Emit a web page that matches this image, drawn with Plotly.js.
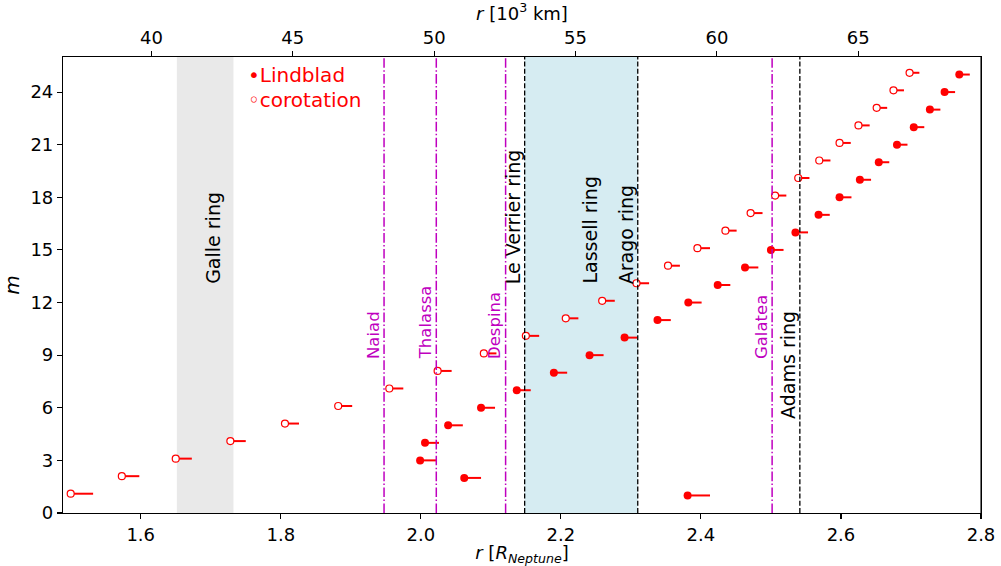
<!DOCTYPE html>
<html>
<head>
<meta charset="utf-8">
<script src="https://cdn.plot.ly/plotly-3.0.1.min.js"></script>
<style>html,body{margin:0;padding:0;background:#fff;}#chart{width:1001px;height:566px;}</style>
</head>
<body>
<div id="chart"></div>
<script>
// Lindblad resonances: m, radius (R_Neptune), end of drift segment
const lindM   = [1,2,3,4,5,6,7,8,9,10,11,12,13,14,15,16,17,18,19,20,21,22,23,24,25];
const lindR   = [2.381,2.062,1.999,2.006,2.039,2.086,2.137,2.190,2.241,2.291,2.338,2.382,2.424,2.463,2.500,2.535,2.568,2.598,2.627,2.654,2.680,2.704,2.727,2.748,2.769];
const lindEnd = [2.413,2.086,2.022,2.026,2.060,2.106,2.157,2.209,2.261,2.309,2.357,2.401,2.442,2.482,2.518,2.553,2.584,2.615,2.643,2.669,2.695,2.719,2.742,2.763,2.784];
// Corotation resonances
const corM    = [1.1,2.1,3.1,4.1,5.1,6.1,7.1,8.1,9.1,10.1,11.1,12.1,13.1,14.1,15.1,16.1,17.1,18.1,19.1,20.1,21.1,22.1,23.1,24.1,25.1];
const corR    = [1.500,1.573,1.650,1.728,1.806,1.882,1.955,2.024,2.090,2.150,2.207,2.259,2.308,2.353,2.395,2.435,2.471,2.506,2.539,2.569,2.598,2.625,2.651,2.675,2.698];
const corEnd  = [1.532,1.598,1.673,1.750,1.826,1.902,1.975,2.044,2.108,2.169,2.225,2.277,2.326,2.370,2.413,2.451,2.488,2.522,2.555,2.585,2.614,2.641,2.666,2.690,2.712];
// Moons (dash-dot magenta) and rings (dashed black)
const moonNames = ["Naiad","Thalassa","Despina","Galatea"];
const moonR     = [1.9475,2.0221,2.1211,2.5017];
const moonLabelY = [8.7,8.7,8.7,8.7];
const ringNames = ["Le Verrier ring","Arago ring","Adams ring"];
const ringR     = [2.1483,2.3098,2.5413];
const ringLabelY = [13,13,5.3];
const galleBand = [1.6516,1.7324];
const lassellBand = [2.1483,2.3098];
const bandNames = ["Galle ring","Lassell ring"];
const bandLabelX = [1.703,2.241];
const bandLabelY = [13,13];
const RN = 24.764; // 10^3 km
const xRange = [1.489,2.8];

const FONT = "DejaVu Sans, Verdana, sans-serif";
const RED = "#ff0000", MAG = "#bf00bf";

function segs(xs, xe, ys){
  const X=[],Y=[];
  for(let i=0;i<xs.length;i++){X.push(xs[i],xe[i],null);Y.push(ys[i],ys[i],null);}
  return {X,Y};
}
const ls = segs(lindR, lindEnd, lindM);
const cs = segs(corR, corEnd, corM);

const traces = [
  {x:ls.X,y:ls.Y,mode:"lines",line:{color:RED,width:2},hoverinfo:"skip",showlegend:false},
  {x:cs.X,y:cs.Y,mode:"lines",line:{color:RED,width:2},hoverinfo:"skip",showlegend:false},
  {x:lindR,y:lindM,mode:"markers",marker:{symbol:"circle",color:RED,size:8},showlegend:false},
  {x:corR,y:corM,mode:"markers",marker:{symbol:"circle",color:"#ffffff",size:7,line:{color:RED,width:1.2}},showlegend:false},
  {x:[xRange[0]*RN,xRange[1]*RN],y:[null,null],xaxis:"x2",mode:"markers",marker:{opacity:0},hoverinfo:"skip",showlegend:false}
];

const shapes = [
  {type:"rect",xref:"x",yref:"paper",x0:galleBand[0],x1:galleBand[1],y0:0,y1:1,fillcolor:"#e9e9e9",line:{width:0},layer:"below"},
  {type:"rect",xref:"x",yref:"paper",x0:lassellBand[0],x1:lassellBand[1],y0:0,y1:1,fillcolor:"#d6ecf2",line:{width:0},layer:"below"}
];
moonR.forEach(r=>shapes.push({type:"line",xref:"x",yref:"paper",x0:r,x1:r,y0:0,y1:1,line:{color:MAG,width:1.5,dash:"9.6px,2.4px,1.5px,2.4px"}}));
ringR.forEach(r=>shapes.push({type:"line",xref:"x",yref:"paper",x0:r,x1:r,y0:0,y1:1,line:{color:"#000000",width:1.3,dash:"5px,2.2px"}}));

const annotations = [];
moonNames.forEach((n,i)=>annotations.push({x:moonR[i],y:moonLabelY[i],xref:"x",yref:"y",text:n,textangle:-90,showarrow:false,xanchor:"right",yanchor:"bottom",font:{family:FONT,size:16.5,color:MAG},borderpad:0}));
ringNames.forEach((n,i)=>annotations.push({x:ringR[i],y:ringLabelY[i],xref:"x",yref:"y",text:n,textangle:-90,showarrow:false,xanchor:"right",yanchor:"bottom",font:{family:FONT,size:19,color:"#000"},borderpad:0}));
bandNames.forEach((n,i)=>annotations.push({x:bandLabelX[i],y:bandLabelY[i],xref:"x",yref:"y",text:n,textangle:-90,showarrow:false,xanchor:"center",yanchor:"bottom",font:{family:FONT,size:19,color:"#000"},borderpad:0}));
annotations.push({x:1.75,y:25,xref:"x",yref:"y",text:"\u2022Lindblad",showarrow:false,xanchor:"left",yanchor:"middle",font:{family:FONT,size:20,color:RED}});
annotations.push({x:1.75,y:23.55,xref:"x",yref:"y",text:"\u25e6corotation",showarrow:false,xanchor:"left",yanchor:"middle",font:{family:FONT,size:20,color:RED}});

const axBase = {showgrid:false,zeroline:false,showline:true,linecolor:"#000",linewidth:1.1,ticks:"outside",ticklen:5,tickwidth:1.1,tickcolor:"#000",tickfont:{family:FONT,size:18,color:"#000"}};

const layout = {
  width:1001,height:566,
  margin:{l:63,r:20,t:57,b:53,pad:0},
  paper_bgcolor:"#fff",plot_bgcolor:"#fff",
  font:{family:FONT,color:"#000"},
  xaxis:Object.assign({},axBase,{range:xRange,dtick:0.2,tick0:0,tickformat:".1f",mirror:false,
    title:{text:"<i>r</i> [<i>R</i><sub><i>Neptune</i></sub>]",font:{family:FONT,size:18}}}),
  xaxis2:Object.assign({},axBase,{range:[xRange[0]*RN,xRange[1]*RN],dtick:5,tick0:0,overlaying:"x",side:"top",anchor:"y",
    title:{text:"<i>r</i> [10<sup>3</sup> km]",font:{family:FONT,size:18}}}),
  yaxis:Object.assign({},axBase,{range:[0,26],dtick:3,tick0:0,mirror:true,
    title:{text:"<i>m</i>",font:{family:FONT,size:20}}}),
  shapes:shapes,annotations:annotations,showlegend:false
};
// right spine
layout.shapes.push({type:"line",xref:"paper",yref:"paper",x0:1,x1:1,y0:0,y1:1,line:{color:"#000",width:1.1}});

Plotly.newPlot("chart",traces,layout,{displayModeBar:false,staticPlot:true});
</script>
</body>
</html>
